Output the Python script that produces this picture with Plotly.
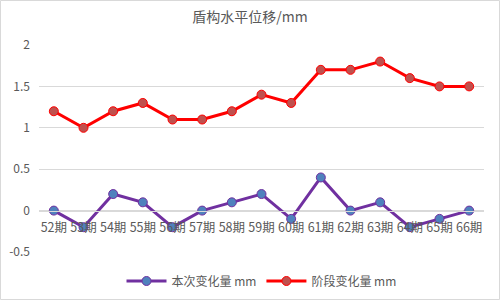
import plotly.graph_objects as go

periods = ["52期", "53期", "54期", "55期", "56期", "57期", "58期", "59期",
           "60期", "61期", "62期", "63期", "64期", "65期", "66期"]
current_change = [0, -0.2, 0.2, 0.1, -0.2, 0, 0.1, 0.2, -0.1, 0.4, 0, 0.1, -0.2, -0.1, 0]
stage_change = [1.2, 1.0, 1.2, 1.3, 1.1, 1.1, 1.2, 1.4, 1.3, 1.7, 1.7, 1.8, 1.6, 1.5, 1.5]

FONT = "Noto Sans CJK SC"
L, R, T, B = 39, 16, 45, 48
W, H = 500, 300
pw, ph = W - L - R, H - T - B

fig = go.Figure()
fig.add_trace(go.Scatter(
    x=periods, y=current_change, name="本次变化量 mm", mode="lines+markers",
    line=dict(color="#7030a0", width=3),
    marker=dict(size=9, color="#4f81bd", line=dict(color="#7030a0", width=1)),
))
fig.add_trace(go.Scatter(
    x=periods, y=stage_change, name="阶段变化量 mm", mode="lines+markers",
    line=dict(color="#ff0000", width=3),
    marker=dict(size=9, color="#c0504d", line=dict(color="#ff0000", width=1)),
))

fig.update_layout(
    width=W, height=H,
    margin=dict(l=L, r=R, t=T, b=B, autoexpand=False),
    paper_bgcolor="white", plot_bgcolor="white",
    font=dict(family=FONT, color="#595959", size=12),
    title=dict(text="盾构水平位移/mm", x=0.5, xanchor="center", y=1 - 17 / H,
               yanchor="middle", font=dict(size=14, color="#595959", family=FONT)),
    showlegend=True,
    legend=dict(orientation="h", x=0.5, xanchor="center", y=(-29) / ph, yanchor="middle",
                font=dict(size=12, color="#595959"), itemwidth=40),
    xaxis=dict(
        type="category", anchor="free", position=0.5 / 2.5, range=[-0.5, 14.5],
        showgrid=False, showline=True, linecolor="#d9d9d9", linewidth=1,
        ticks="", tickfont=dict(size=12.5, color="#595959"), ticklabelstandoff=5,
        zeroline=False, automargin=False,
    ),
    yaxis=dict(
        range=[-0.5, 2], tickvals=[-0.5, 0, 0.5, 1, 1.5, 2],
        ticktext=["-0.5", "0", "0.5", "1", "1.5", "2"],
        showgrid=True, gridcolor="#d9d9d9", gridwidth=1,
        zeroline=False, showline=False, ticks="", ticklabelstandoff=8,
        tickfont=dict(size=12, color="#595959"), automargin=False,
    ),
    shapes=[dict(
        type="rect", xref="paper", yref="paper",
        x0=(0.5 - L) / pw, x1=(W - 0.5 - L) / pw,
        y0=(T + ph - (H - 0.5)) / ph, y1=(T + ph - 0.5) / ph,
        line=dict(color="#d9d9d9", width=1), layer="below",
    )],
)

fig.write_html("out.html")
